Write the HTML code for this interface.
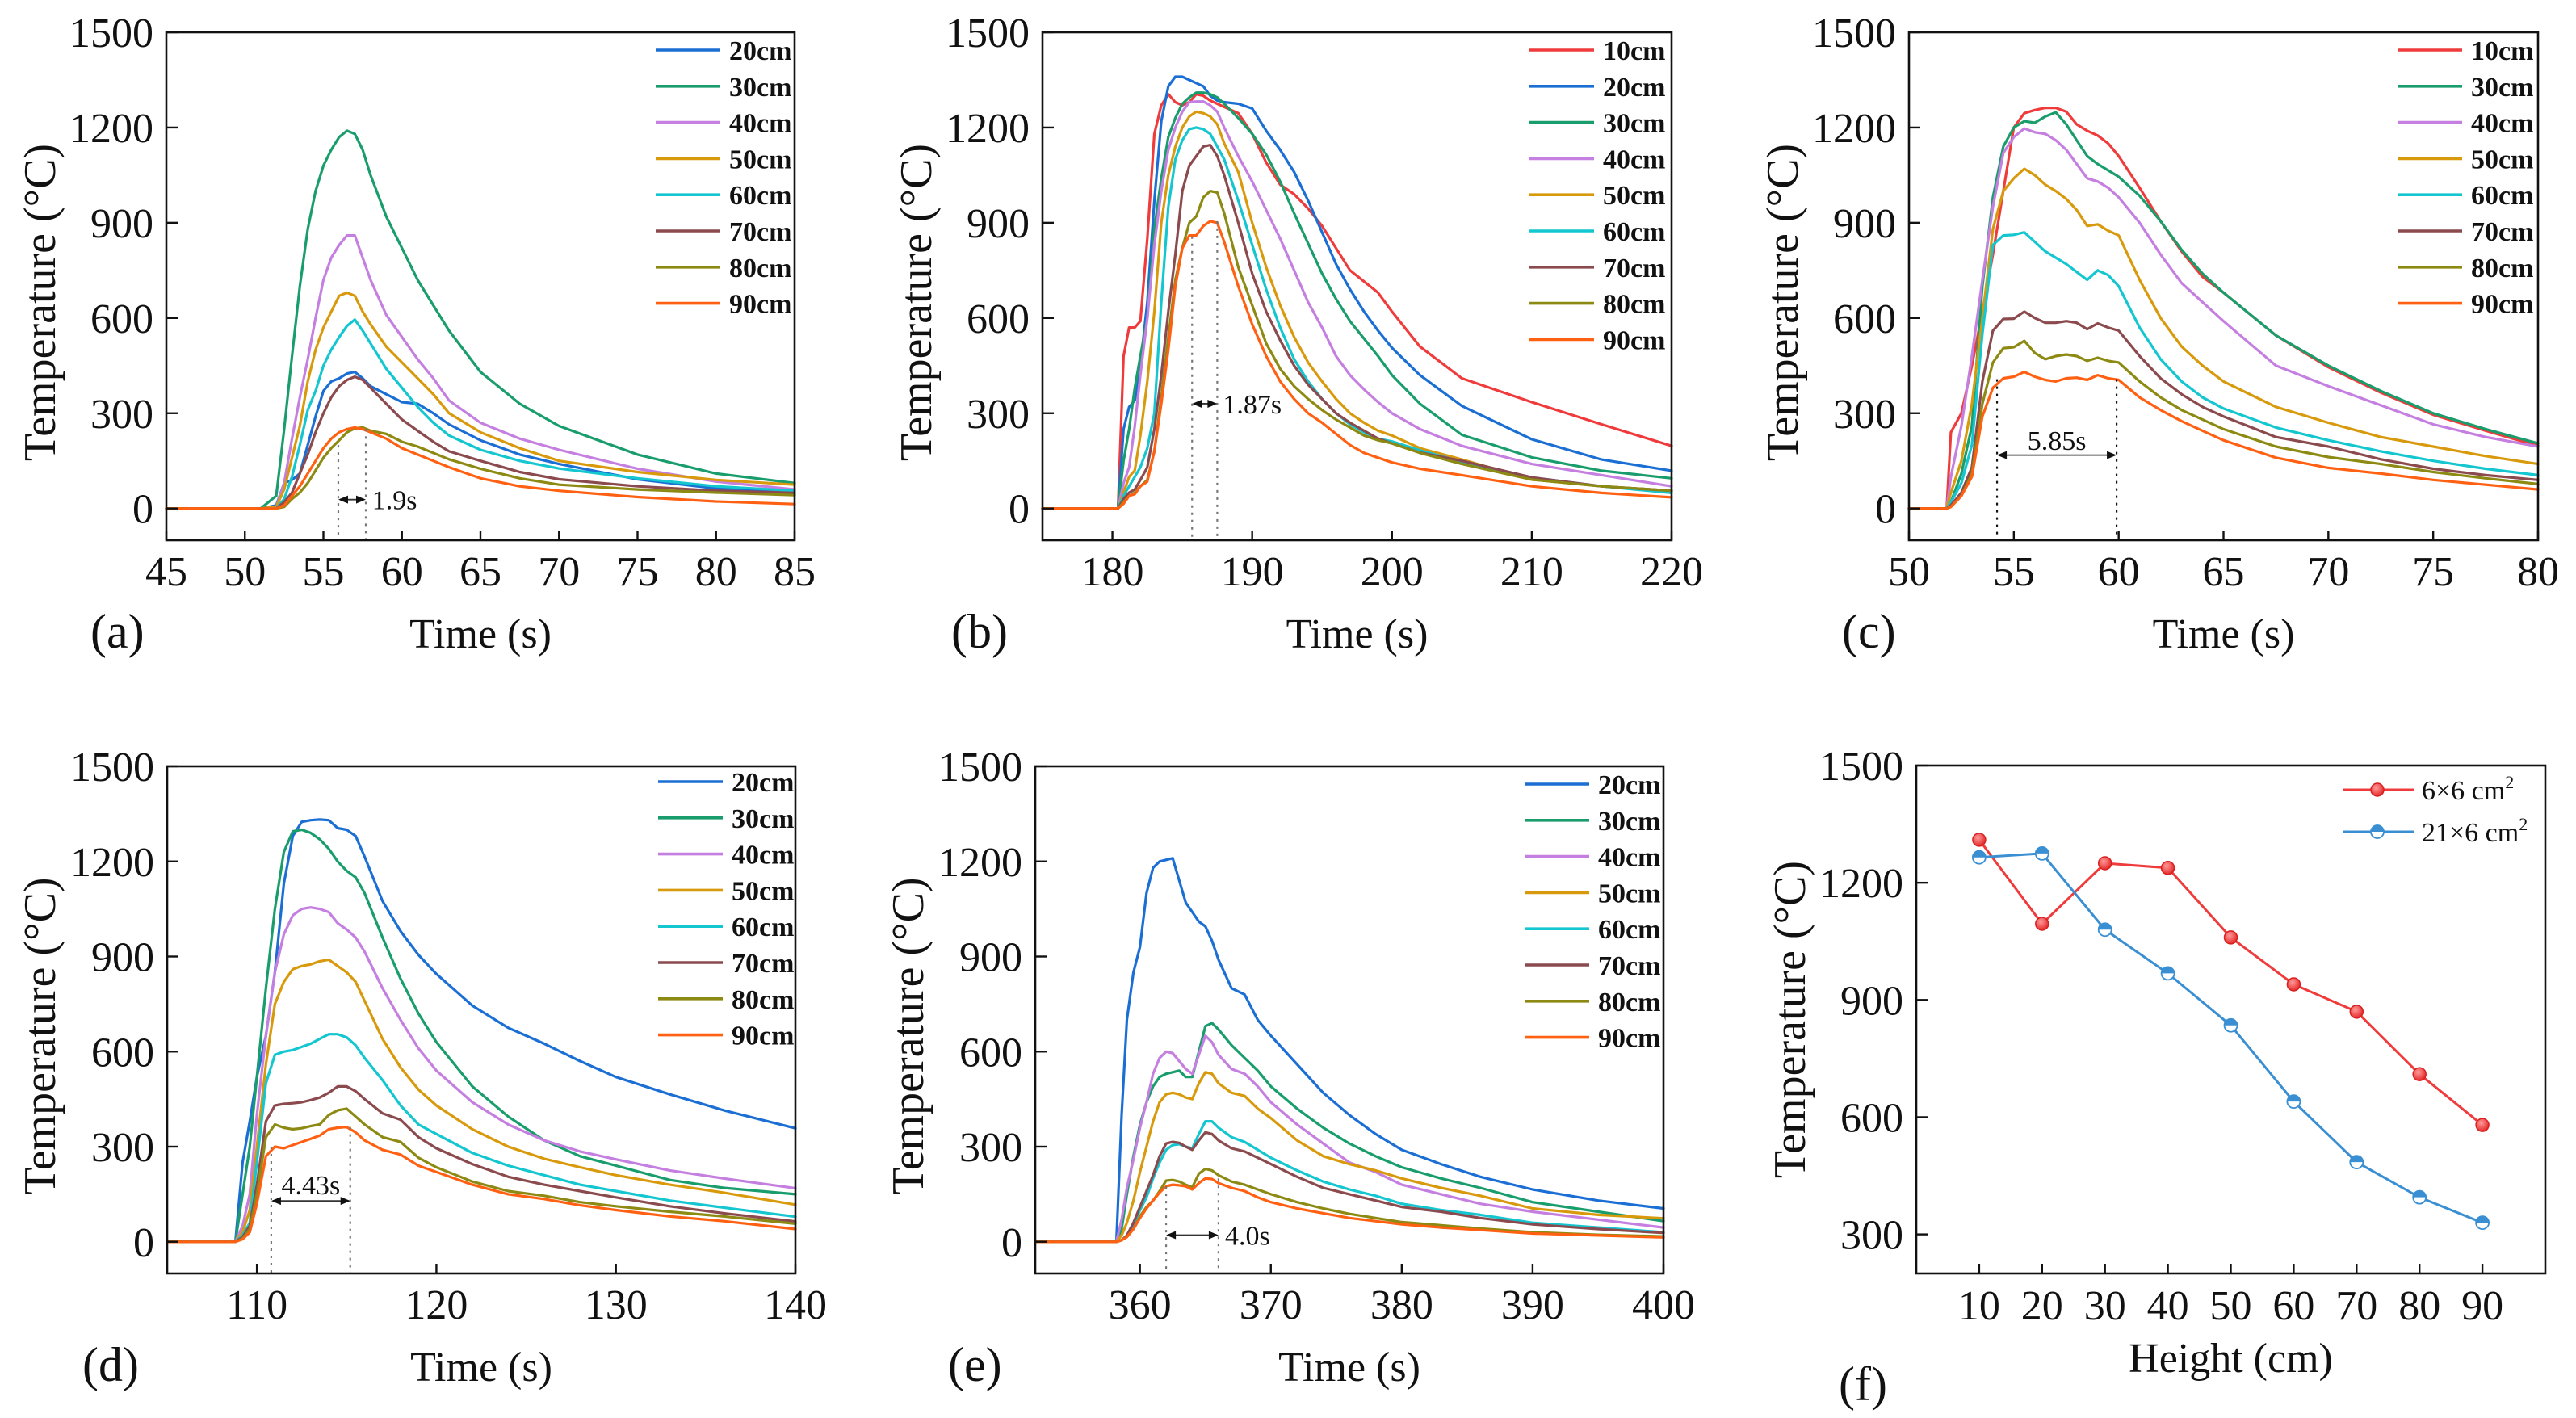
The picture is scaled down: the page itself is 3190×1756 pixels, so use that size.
<!DOCTYPE html>
<html><head><meta charset="utf-8"><style>
html,body{margin:0;padding:0;background:#fff;}
svg{display:block;font-family:"Liberation Serif","Times New Roman",serif;}
</style></head><body>
<svg id="fig" xmlns="http://www.w3.org/2000/svg" width="3190" height="1756" viewBox="0 0 3190 1756"></svg>
<script>
// ---------- data ----------
const timesA=[45,51,52,52.5,53,53.5,54,54.5,55,55.5,56,56.5,57,57.5,58,59,60,61,62,63,65,67.5,70,75,80,85];
const a20=[0,0,10,80,90,110,200,290,370,400,410,425,430,410,385,360,335,330,300,265,215,170,140,92,63,49];
const a30=[0,0,40,250,480,700,880,1000,1080,1130,1170,1190,1180,1130,1050,920,820,720,640,560,430,330,260,170,110,80];
const a40=[0,0,5,80,220,350,470,600,720,790,830,860,860,790,720,610,540,470,410,340,270,220,185,125,85,60];
const a50=[0,0,5,60,160,260,400,500,570,620,670,680,670,620,580,510,460,410,360,300,240,190,150,115,90,75];
const a60=[0,0,0,30,100,200,310,370,450,500,540,575,595,560,520,440,380,320,270,230,185,150,126,95,70,56];
const a70=[0,0,0,20,50,110,170,240,300,350,385,405,415,405,380,330,280,245,210,180,150,115,92,70,56,49];
const a80=[0,0,0,5,30,50,80,120,160,190,215,240,252,255,245,235,210,195,175,155,125,95,75,60,50,42];
const a90=[0,0,0,10,40,70,110,150,190,220,240,250,255,250,240,220,190,170,150,130,95,70,56,36,22,14];

const timesB=[175,180.4,180.8,181.2,181.6,182,182.5,183,183.5,184,184.5,185,185.5,186,186.5,187,187.5,188,189,190,191,192,193,194,195,196,197,198,199,200,202,205,210,215,220];
const b10=[0,0,480,570,570,590,850,1180,1270,1305,1280,1270,1280,1305,1300,1285,1275,1265,1245,1180,1090,1020,990,945,890,820,750,715,680,620,510,410,335,265,197];
const b20=[0,0,250,320,340,450,650,970,1220,1330,1360,1360,1350,1340,1330,1300,1285,1280,1275,1260,1190,1130,1060,970,870,770,690,620,560,506,420,323,218,154,119];
const b30=[0,0,150,250,380,480,600,880,1040,1170,1230,1275,1295,1310,1310,1305,1295,1275,1230,1180,1115,1030,930,835,740,660,590,535,480,420,330,232,161,119,95];
const b40=[0,0,80,130,260,420,600,830,1000,1130,1200,1250,1280,1282,1282,1270,1250,1200,1110,1030,940,850,750,650,570,480,420,375,335,300,250,197,140,105,70];
const b50=[0,0,50,100,120,230,400,620,900,1050,1140,1200,1235,1250,1245,1235,1210,1150,1060,900,760,640,540,460,400,345,300,270,245,230,190,154,91,70,56];
const b60=[0,0,40,70,100,130,190,300,650,950,1100,1160,1195,1200,1195,1180,1140,1100,970,830,690,570,470,400,345,300,265,240,220,211,183,147,98,70,49];
const b70=[0,0,30,50,60,90,130,250,420,620,800,1000,1080,1110,1140,1145,1110,1050,900,740,620,530,450,390,345,300,270,245,220,205,176,150,98,70,56];
const b80=[0,0,20,40,50,70,90,180,350,540,720,820,900,920,980,1000,995,930,760,640,520,440,385,345,310,280,255,230,215,205,175,140,91,70,56];
const b90=[0,0,15,40,45,70,85,180,330,500,700,820,860,860,890,905,900,840,700,580,480,400,345,300,270,235,200,175,160,145,125,105,70,49,35];

const timesC=[50,51.8,52,52.5,53,53.5,54,54.5,55,55.5,56,56.5,57,57.5,58,58.5,59,59.5,60,61,62,63,64,65,67.5,70,72.5,75,77.5,80];
const c10=[0,0,240,300,450,620,800,1000,1200,1245,1255,1262,1262,1250,1210,1190,1175,1150,1110,1010,905,810,730,680,545,445,365,295,245,197];
const c30=[0,0,20,110,260,700,980,1140,1200,1220,1215,1235,1248,1210,1160,1110,1085,1065,1045,985,905,815,740,680,545,450,370,300,250,205];
const c40=[0,0,100,260,480,720,950,1120,1170,1197,1185,1180,1160,1130,1085,1040,1030,1010,980,900,800,710,650,590,450,385,325,265,225,195];
const c50=[0,0,50,150,330,600,880,1000,1040,1070,1050,1020,1000,975,940,890,895,875,860,720,600,510,450,400,320,270,225,195,165,140];
const c60=[0,0,20,80,200,550,830,860,862,870,840,810,790,770,745,720,750,735,700,570,470,400,350,315,255,215,180,150,125,105];
const c70=[0,0,10,50,130,400,560,597,598,620,600,585,585,590,585,565,583,570,560,480,410,360,320,290,225,195,155,125,105,90];
const c80=[0,0,5,40,110,330,460,505,508,528,490,470,480,485,480,465,475,465,460,400,350,310,280,250,195,162,140,115,95,77];
const c90=[0,0,5,40,100,290,380,410,415,430,415,405,400,410,412,405,420,410,405,350,310,275,245,215,160,128,110,90,75,60];

const timesD=[105,108.8,109.2,109.6,110,110.5,111,111.5,112,112.5,113,113.5,114,114.5,115,115.5,116,117,118,119,120,122,124,126,128,130,133,136,140];
const d20=[0,0,250,380,520,650,850,1130,1280,1325,1330,1332,1330,1305,1300,1280,1215,1075,980,905,845,745,675,625,570,520,465,415,358];
const d30=[0,0,150,300,520,800,1050,1230,1295,1300,1290,1270,1240,1200,1170,1150,1100,960,830,720,630,490,395,320,270,240,195,170,150];
const d40=[0,0,50,150,400,650,850,970,1030,1050,1055,1050,1040,1005,985,960,915,800,700,610,540,440,370,320,285,260,225,200,169];
const d50=[0,0,30,100,300,560,750,820,860,870,875,885,890,870,850,820,760,640,550,480,430,355,300,262,235,210,180,155,117];
const d60=[0,0,20,60,250,500,590,600,605,615,625,640,655,655,645,620,580,510,430,370,340,280,240,210,180,160,130,108,79];
const d70=[0,0,15,50,180,380,430,435,437,440,447,455,470,490,490,475,450,405,385,330,295,245,205,180,160,140,112,90,64];
const d80=[0,0,10,40,150,330,370,360,355,358,365,370,400,415,420,395,370,330,315,265,235,190,160,145,125,112,95,80,57];
const d90=[0,0,8,30,120,270,300,295,305,315,325,335,355,360,362,345,320,290,275,240,220,180,150,135,115,100,80,65,40];

const timesE=[352,358.2,358.6,359,359.5,360,360.5,361,361.5,362,362.5,363,363.5,364,364.5,365,365.5,366,367,368,369,370,372,374,376,378,380,383,386,390,395,400];
const e20=[0,0,400,700,850,930,1100,1180,1200,1205,1210,1140,1070,1040,1010,995,950,890,800,780,700,650,560,470,400,340,290,245,205,165,130,105];
const e30=[0,0,40,150,270,370,440,490,520,530,535,540,520,520,600,680,690,670,620,580,540,490,420,360,310,270,235,200,170,125,95,65];
const e40=[0,0,70,170,260,360,440,530,580,600,595,570,545,530,590,650,630,590,545,530,490,440,370,310,250,220,180,150,120,95,70,45];
const e50=[0,0,20,60,130,220,300,380,440,465,470,465,455,450,500,535,530,500,470,460,420,390,320,270,245,225,200,170,145,105,85,74];
const e60=[0,0,5,20,50,100,140,200,250,290,305,308,300,295,340,380,380,360,330,315,290,265,225,190,165,145,120,100,85,60,45,30];
const e70=[0,0,5,20,60,110,160,210,270,310,315,312,300,290,320,345,340,320,295,285,265,245,205,170,150,130,110,95,75,55,40,28];
const e80=[0,0,5,15,40,80,110,130,160,193,195,190,180,172,215,230,225,210,190,180,165,150,125,105,88,75,62,52,42,30,22,17];
const e90=[0,0,5,15,40,75,105,130,155,175,180,178,175,165,185,200,198,185,170,160,140,125,105,90,75,65,55,45,37,26,20,14];

const heightsF=[10,20,30,40,50,60,70,80,90];
const f6x6=[1310,1095,1250,1238,1060,940,870,710,580];
const f21x6=[1265,1275,1080,968,835,640,485,395,330];

const yTicks=[0,300,600,900,1200,1500];
const fYTicks=[300,600,900,1200,1500];
const ticksA=[45,50,55,60,65,70,75,80,85];
const ticksB=[180,190,200,210,220];
const ticksC=[50,55,60,65,70,75,80];
const ticksD=[110,120,130,140];
const ticksE=[360,370,380,390,400];

const COL={'10cm':'#ef3b3b','20cm':'#1b6fd4','30cm':'#1a9d6c','40cm':'#c47fe0','50cm':'#d89a0c','60cm':'#14c6d0','70cm':'#8b4a4e','80cm':'#8c8a12','90cm':'#ff6012'};

// ---------- drawing ----------
const NS='http://www.w3.org/2000/svg';
const svg=document.getElementById('fig');
function mk(tag,attrs,parent,text){
  const e=document.createElementNS(NS,tag);
  for(const k in attrs) e.setAttribute(k,attrs[k]);
  if(text!==undefined) e.textContent=text;
  (parent||svg).appendChild(e);
  return e;
}

function drawPanel(p){
  const g=mk('g',{});
  
  
  const sx=v=>p.L+(v-p.xmin)/(p.xmax-p.xmin)*(p.R-p.L);
  const sy=v=>p.B-(v-p.ymin)/(p.ymax-p.ymin)*(p.B-p.T);
  // series
  p.series.forEach(s=>{
    const pts=p.times.map((t,i)=>sx(t).toFixed(1)+','+sy(s[1][i]).toFixed(1)).join(' ');
    const pl=mk('polyline',{points:pts,fill:'none',stroke:COL[s[0]],'stroke-width':3.2,'stroke-linejoin':'round','stroke-linecap':'round'},g);
    
    
  });
  // annotation
  const an=p.ann;
  const ag=mk('g',{},g);
  
  
  mk('line',{x1:sx(an.x1),x2:sx(an.x1),y1:sy(an.top1),y2:p.B,stroke:an.dark?'#111':'#777','stroke-width':2.2,'stroke-dasharray':'3,6'},ag);
  mk('line',{x1:sx(an.x2),x2:sx(an.x2),y1:sy(an.top2),y2:p.B,stroke:an.dark?'#111':'#777','stroke-width':2.2,'stroke-dasharray':'3,6'},ag);
  const ay=sy(an.ay), ax1=sx(an.x1), ax2=sx(an.x2);
  mk('line',{x1:ax1+2,x2:ax2-2,y1:ay,y2:ay,stroke:'#333','stroke-width':1.8},ag);
  mk('polygon',{points:`${ax1},${ay} ${ax1+12},${ay-5} ${ax1+12},${ay+5}`,fill:'#111'},ag);
  mk('polygon',{points:`${ax2},${ay} ${ax2-12},${ay-5} ${ax2-12},${ay+5}`,fill:'#111'},ag);
  const at=mk('text',{x:an.tAnchor==='middle'?(ax1+ax2)/2:sx(an.tx),y:sy(an.ty)+12,'font-size':34,'text-anchor':an.tAnchor||'start',fill:'#111'},ag,an.text);
  
  
  // frame
  const fr=mk('rect',{x:p.L,y:p.T,width:p.R-p.L,height:p.B-p.T,fill:'none',stroke:'#111','stroke-width':2.6},g);
  
  
  // y ticks
  yTicks.forEach(v=>{
    mk('line',{x1:p.L,x2:p.L+14,y1:sy(v),y2:sy(v),stroke:'#111','stroke-width':2.4},g);
    const t=mk('text',{x:p.L-16,y:sy(v)+18,'font-size':52,'text-anchor':'end',fill:'#111'},g,String(v));
    
    
  });
  p.xticks.forEach(v=>{
    mk('line',{x1:sx(v),x2:sx(v),y1:p.B,y2:p.B-12,stroke:'#111','stroke-width':2.4},g);
    const t=mk('text',{x:sx(v),y:p.B+56,'font-size':52,'text-anchor':'middle',fill:'#111'},g,String(v));
    
    
  });
  // titles
  const xt=mk('text',{x:(p.L+p.R)/2,y:p.B+133,'font-size':52,'text-anchor':'middle',fill:'#111'},g,'Time (s)');
  
  
  const cy=(p.T+p.B)/2+20;
  const yt=mk('text',{x:p.ylabX,y:cy,'font-size':56,'text-anchor':'middle',fill:'#111',transform:`rotate(-90 ${p.ylabX} ${cy})`},g,'Temperature (°C)');
  
  
  const pl=mk('text',{x:p.labelX,y:p.B+133,'font-size':60,fill:'#111'},g,p.label);
  
  
  // legend
  const lg=mk('g',{},g);
  
  
  p.series.forEach((s,i)=>{
    const y=p.legY+i*44.8;
    mk('line',{x1:p.legX,x2:p.legX+80,y1:y,y2:y,stroke:COL[s[0]],'stroke-width':3.6},lg);
    const t=mk('text',{x:p.legX+91,y:y+12,'font-size':34,'font-weight':'bold',fill:'#111'},lg,s[0]);
    
    
  });
}

const panels=[
 {id:'a',L:206,R:984,T:40,B:669,xmin:45,xmax:85,ymin:-100,ymax:1500,times:timesA,xticks:ticksA,label:'(a)',labelX:112,ylabX:68,legX:812,legY:62,
  series:[['20cm',a20],['30cm',a30],['40cm',a40],['50cm',a50],['60cm',a60],['70cm',a70],['80cm',a80],['90cm',a90]],
  ann:{x1:55.95,x2:57.7,top1:200,top2:250,ay:28,text:'1.9s',tx:58.1,ty:28}},
 {id:'b',L:1291,R:2070,T:40,B:669,xmin:175,xmax:220,ymin:-100,ymax:1500,times:timesB,xticks:ticksB,label:'(b)',labelX:1178,ylabX:1153,legX:1894,legY:62,
  series:[['10cm',b10],['20cm',b20],['30cm',b30],['40cm',b40],['50cm',b50],['60cm',b60],['70cm',b70],['80cm',b80],['90cm',b90]],
  ann:{x1:185.7,x2:187.5,top1:857,top2:905,ay:330,text:'1.87s',tx:187.9,ty:330}},
 {id:'c',L:2364,R:3143,T:40,B:669,xmin:50,xmax:80,ymin:-100,ymax:1500,times:timesC,xticks:ticksC,label:'(c)',labelX:2281,ylabX:2226,legX:2969,legY:62,
  series:[['10cm',c10],['30cm',c30],['40cm',c40],['50cm',c50],['60cm',c60],['70cm',c70],['80cm',c80],['90cm',c90]],
  ann:{x1:54.2,x2:59.9,top1:407,top2:407,ay:168,text:'5.85s',tAnchor:'middle',ty:215,dark:true}},
 {id:'d',L:207,R:985,T:949,B:1577,xmin:105,xmax:140,ymin:-100,ymax:1500,times:timesD,xticks:ticksD,label:'(d)',labelX:102,ylabX:68,legX:815,legY:968,
  series:[['20cm',d20],['30cm',d30],['40cm',d40],['50cm',d50],['60cm',d60],['70cm',d70],['80cm',d80],['90cm',d90]],
  ann:{x1:110.8,x2:115.2,top1:300,top2:362,ay:129,text:'4.43s',tAnchor:'middle',ty:180}},
 {id:'e',L:1282,R:2060,T:949,B:1577,xmin:352,xmax:400,ymin:-100,ymax:1500,times:timesE,xticks:ticksE,label:'(e)',labelX:1174,ylabX:1143,legX:1888,legY:971,
  series:[['20cm',e20],['30cm',e30],['40cm',e40],['50cm',e50],['60cm',e60],['70cm',e70],['80cm',e80],['90cm',e90]],
  ann:{x1:362,x2:366,top1:175,top2:200,ay:21,text:'4.0s',tx:366.5,ty:21}}
];
panels.forEach(drawPanel);

// ---------- panel f ----------
(function(){
  const L=2373,R=3152,T=948,B=1577,xmin=0,xmax=100,ymin=200,ymax=1500;
  const sx=v=>L+(v-xmin)/(xmax-xmin)*(R-L);
  const sy=v=>B-(v-ymin)/(ymax-ymin)*(B-T);
  const g=mk('g',{});
  
  
  const defs=mk('defs',{},g);
  const rg=mk('radialGradient',{id:'rball',cx:'0.4',cy:'0.35',r:'0.65'},defs);
  mk('stop',{offset:'0','stop-color':'#ff9a9a'},rg);
  mk('stop',{offset:'1','stop-color':'#e52a2a'},rg);
  const ser=[['6x6',f6x6,'#ef3b3b'],['21x6',f21x6,'#3a8fd2']];
  ser.forEach(s=>{
    const pts=heightsF.map((h,i)=>sx(h).toFixed(1)+','+sy(s[1][i]).toFixed(1)).join(' ');
    const pl=mk('polyline',{points:pts,fill:'none',stroke:s[2],'stroke-width':3},g);
    
    
    heightsF.forEach((h,i)=>{
      const cx=sx(h), cy=sy(s[1][i]);
      if(s[0]==='6x6'){
        const c=mk('circle',{cx:cx,cy:cy,r:8,fill:'url(#rball)',stroke:'#d82020','stroke-width':1.5},g);
        
        
      } else {
        const c=mk('circle',{cx:cx,cy:cy,r:8,fill:'#fff',stroke:s[2],'stroke-width':1.8},g);
        
        
        mk('path',{d:`M${cx-8},${cy} A8,8 0 0 1 ${cx+8},${cy} Z`,fill:s[2]},g);
      }
    });
  });
  const fr=mk('rect',{x:L,y:T,width:R-L,height:B-T,fill:'none',stroke:'#111','stroke-width':2.6},g);
  
  
  fYTicks.forEach(v=>{
    mk('line',{x1:L,x2:L+14,y1:sy(v),y2:sy(v),stroke:'#111','stroke-width':2.4},g);
    const t=mk('text',{x:L-16,y:sy(v)+18,'font-size':52,'text-anchor':'end',fill:'#111'},g,String(v));
    
    
  });
  heightsF.forEach(v=>{
    mk('line',{x1:sx(v),x2:sx(v),y1:B,y2:B-12,stroke:'#111','stroke-width':2.4},g);
    const t=mk('text',{x:sx(v),y:B+57,'font-size':52,'text-anchor':'middle',fill:'#111'},g,String(v));
    
    
  });
  const xt=mk('text',{x:(L+R)/2,y:1699,'font-size':52,'text-anchor':'middle',fill:'#111'},g,'Height (cm)');
  
  
  const cy=(T+B)/2;
  const yt=mk('text',{x:2235,y:cy,'font-size':56,'text-anchor':'middle',fill:'#111',transform:`rotate(-90 2235 ${cy})`},g,'Temperature (°C)');
  
  
  const pl=mk('text',{x:2277,y:1734,'font-size':60,fill:'#111'},g,'(f)');
  
  
  // legend
  const lg=mk('g',{},g);
  
  
  const rows=[['6×6 cm','#ef3b3b',978,true],['21×6 cm','#3a8fd2',1030,false]];
  rows.forEach(r=>{
    mk('line',{x1:2901,x2:2989,y1:r[2],y2:r[2],stroke:r[1],'stroke-width':3},lg);
    if(r[3]) mk('circle',{cx:2944,cy:r[2],r:8,fill:'url(#rball)',stroke:'#d82020','stroke-width':1.5},lg);
    else { mk('circle',{cx:2944,cy:r[2],r:8,fill:'#fff',stroke:r[1],'stroke-width':1.8},lg);
      mk('path',{d:`M2936,${r[2]} A8,8 0 0 1 2952,${r[2]} Z`,fill:r[1]},lg); }
    const t=mk('text',{x:2999,y:r[2]+12,'font-size':34,fill:'#111'},lg,r[0]);
    
    
    mk('tspan',{dy:-14,'font-size':22},t,'2');
  });
})();
</script>
</body></html>
